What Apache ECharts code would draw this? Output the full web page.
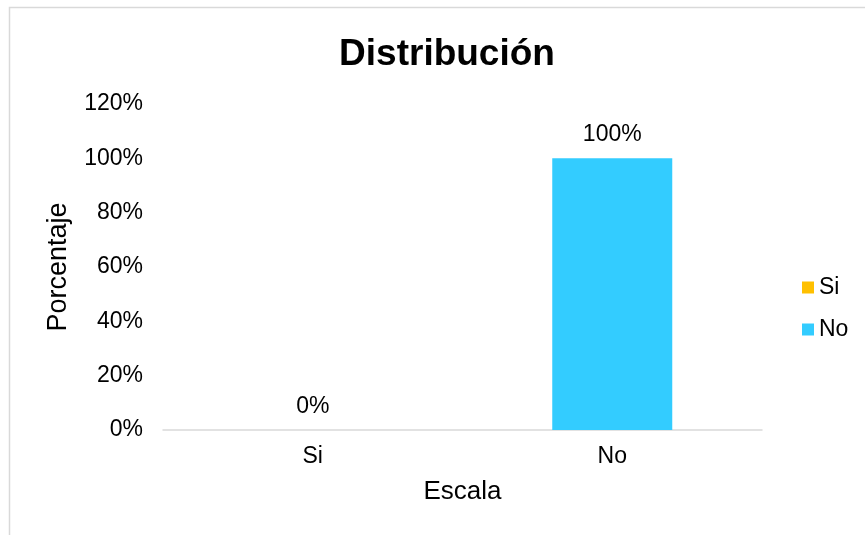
<!DOCTYPE html>
<html>
<head>
<meta charset="utf-8">
<script src="https://cdn.jsdelivr.net/npm/echarts@6/dist/echarts.min.js"></script>
<style>
  html, body { margin: 0; padding: 0; background: #fff; }
  #chart { width: 865px; height: 535px; }
</style>
</head>
<body>
<div id="chart"></div>
<script>
// datos
const categorias = ['Si', 'No']
const porcentajes = [0, 100]
const colores = ['#FFC000', '#33CCFF']
const ticksY = [0, 20, 40, 60, 80, 100, 120]

const chart = echarts.init(document.getElementById('chart'))

// una serie por categoría para que la leyenda muestre Si / No
const series = categorias.map((cat, i) => ({
  name: cat,
  type: 'bar',
  stack: 'total',
  barWidth: 120,
  itemStyle: {color: colores[i]},
  data: categorias.map((c, j) => (j === i ? porcentajes[i] : '-')),
  label: {
    show: true,
    position: 'top',
    distance: 12,
    formatter: '{c}%',
    fontFamily: 'Liberation Sans',
    fontSize: 23,
    color: '#000'
  }
}))

chart.setOption({
  animation: false,
  textStyle: {fontFamily: 'Liberation Sans'},
  title: {
    text: 'Distribución',
    left: 442,
    textAlign: 'center',
    top: 31,
    textStyle: {fontSize: 37, fontWeight: 'bold', color: '#000', fontFamily: 'Liberation Sans'}
  },
  graphic: [{
    type: 'rect',
    shape: {x: 9.5, y: 7.5, width: 900, height: 600},
    style: {fill: 'none', stroke: '#d9d9d9', lineWidth: 1.5},
    silent: true
  }],
  legend: {
    orient: 'vertical',
    left: 797,
    top: 271,
    itemWidth: 12,
    itemHeight: 12,
    itemGap: 19,
    icon: 'rect',
    data: categorias,
    textStyle: {fontSize: 23, color: '#000', fontFamily: 'Liberation Sans'}
  },
  grid: {left: 163, right: 103, top: 104, bottom: 105},
  xAxis: {
    type: 'category',
    data: categorias,
    name: 'Escala',
    nameLocation: 'middle',
    nameGap: 49,
    nameTextStyle: {fontSize: 26, color: '#000'},
    axisLine: {lineStyle: {color: '#d9d9d9', width: 1.5}},
    axisTick: {show: false},
    axisLabel: {fontSize: 23, color: '#000', margin: 15}
  },
  yAxis: {
    type: 'value',
    min: ticksY[0],
    max: ticksY[ticksY.length - 1],
    interval: ticksY[1] - ticksY[0],
    name: 'Porcentaje',
    nameLocation: 'middle',
    nameGap: 91,
    nameTextStyle: {fontSize: 27, color: '#000'},
    axisLine: {show: false},
    axisTick: {show: false},
    splitLine: {show: false},
    axisLabel: {fontSize: 23, color: '#000', margin: 20, formatter: '{value}%'}
  },
  series: series
})
</script>
</body>
</html>
